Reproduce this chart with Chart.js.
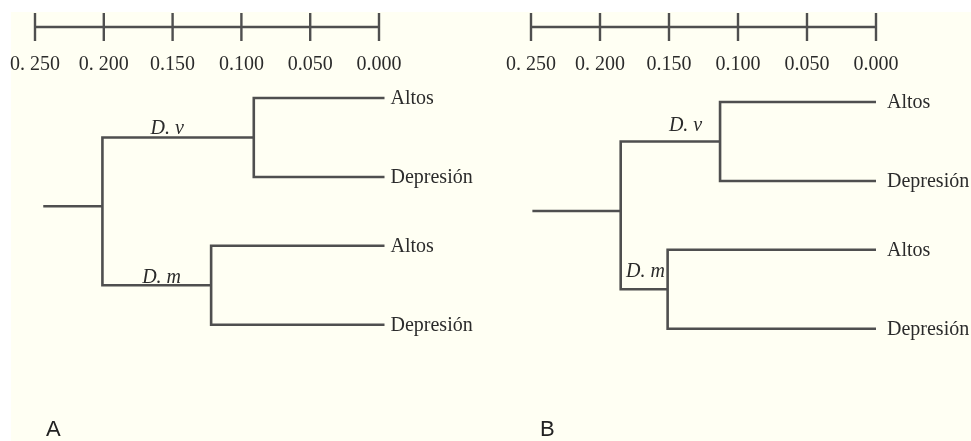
<!DOCTYPE html>
<html>
<head>
<meta charset="utf-8">
<script src="https://cdn.jsdelivr.net/npm/chart.js@4.4.1/dist/chart.umd.min.js"></script>
<style>
  html, body { margin: 0; padding: 0; background: #ffffff; }
  #wrap { position: relative; width: 971px; height: 441px; overflow: hidden; background: #ffffff; }
  #cream { position: absolute; left: 11px; top: 12px; right: 0; bottom: 0; background: #fffff3; }
  canvas { position: absolute; top: 0; }
  .panel { position: absolute; top: 418px; font: 22px "Liberation Sans", sans-serif; line-height: 22px; color: #222; }
</style>
</head>
<body>
<div id="wrap">
  <div id="cream"></div>
  <canvas id="cA" width="485" height="441" style="left:0px"></canvas>
  <canvas id="cB" width="486" height="441" style="left:485px"></canvas>
  <div class="panel" style="left:46px">A</div>
  <div class="panel" style="left:540px">B</div>
</div>
<script>
// ---- data ----
const tickValues = [0.25, 0.2, 0.15, 0.1, 0.05, 0];
const tickLabels = ['0. 250', '0. 200', '0.150', '0.100', '0.050', '0.000'];
const leafNames = ['Altos', 'Depresión', 'Altos', 'Depresión'];
const leafRows = [1, 2, 2.87, 3.87];
const cladeNames = ['D. v', 'D. m'];

const cladeHeightsA = [0.091, 0.122];
const rootHeightA = 0.201;
const stemHeightA = 0.244;
const tipHeightA = -0.004;
const rootRowA = 2.37;
const cladeLabelXA = [0.154, 0.158];

// panel B
const cladeHeightsB = [0.113, 0.151];
const rootHeightB = 0.185;
const stemHeightB = 0.249;
const tipHeightB = 0;
const rootRowB = 2.38;
const cladeLabelXB = [0.138, 0.167];

// ---- drawing ----
const LINE = '#4f4f4f';
const TEXT = '#2b2b2b';

const dendroText = {
  id: 'dendroText',
  afterDatasetsDraw(chart, args, o) {
    const ctx = chart.ctx, xs = chart.scales.x, ys = chart.scales.y;
    ctx.save();
    // scale bar
    ctx.strokeStyle = LINE;
    ctx.lineWidth = 2.4;
    ctx.beginPath();
    ctx.moveTo(xs.getPixelForValue(tickValues[0]), o.barY);
    ctx.lineTo(xs.getPixelForValue(tickValues[tickValues.length - 1]), o.barY);
    tickValues.forEach(v => {
      const px = xs.getPixelForValue(v);
      ctx.moveTo(px, o.barY - 14);
      ctx.lineTo(px, o.barY + 14);
    });
    ctx.stroke();
    ctx.fillStyle = TEXT;
    ctx.font = '20px "Liberation Serif", serif';
    ctx.textAlign = 'center';
    ctx.textBaseline = 'alphabetic';
    tickValues.forEach((v, i) => {
      ctx.fillText(tickLabels[i], xs.getPixelForValue(v), o.labelBaseline);
    });
    // leaf labels
    ctx.textAlign = 'left';
    ctx.textBaseline = 'middle';
    leafNames.forEach((n, i) => {
      ctx.fillText(n, xs.getPixelForValue(o.tip) + o.leafGap, ys.getPixelForValue(leafRows[i]) + 1);
    });
    // clade labels
    ctx.font = 'italic 20px "Liberation Serif", serif';
    ctx.textAlign = 'center';
    ctx.textBaseline = 'alphabetic';
    cladeNames.forEach((n, i) => {
      const row = (leafRows[2 * i] + leafRows[2 * i + 1]) / 2;
      ctx.fillText(n, xs.getPixelForValue(o.cladeLabelX[i]), ys.getPixelForValue(row) - o.cladeLift[i]);
    });
    ctx.restore();
  }
};

function seg(points) {
  return {
    data: points.map(([x, y]) => ({ x, y })),
    showLine: true, pointRadius: 0, pointHoverRadius: 0,
    borderColor: LINE, borderWidth: 2.6, clip: false, fill: false,
    tension: 0, borderJoinStyle: 'miter', borderCapStyle: 'butt'
  };
}

function buildChart(id, p) {
  const cladeRows = [(leafRows[0] + leafRows[1]) / 2, (leafRows[2] + leafRows[3]) / 2];
  const datasets = [];
  for (let i = 0; i < 2; i++) {
    datasets.push(seg([
      [p.tip, leafRows[2 * i]], [p.clade[i], leafRows[2 * i]],
      [p.clade[i], leafRows[2 * i + 1]], [p.tip, leafRows[2 * i + 1]]
    ]));
  }
  datasets.push(seg([
    [p.clade[0], cladeRows[0]], [p.root, cladeRows[0]],
    [p.root, cladeRows[1]], [p.clade[1], cladeRows[1]]
  ]));
  datasets.push(seg([[p.stem, p.rootRow], [p.root, p.rootRow]]));

  return new Chart(document.getElementById(id), {
    type: 'scatter',
    data: { datasets },
    options: {
      responsive: false, animation: false, devicePixelRatio: 1,
      events: [],
      layout: { padding: p.padding },
      scales: {
        x: { type: 'linear', reverse: true, min: 0, max: 0.25, display: false },
        y: { type: 'linear', reverse: true, min: 0.5, max: 4.5, display: false }
      },
      plugins: {
        legend: { display: false },
        tooltip: { enabled: false },
        dendroText: {
          barY: 27, labelBaseline: 70, tip: p.tip, leafGap: p.leafGap,
          cladeLabelX: p.cladeLabelX, cladeLift: p.cladeLift
        }
      }
    },
    plugins: [dendroText]
  });
}

buildChart('cA', {
  clade: cladeHeightsA, root: rootHeightA, stem: stemHeightA, tip: tipHeightA,
  rootRow: rootRowA, cladeLabelX: cladeLabelXA, cladeLift: [4, 2], leafGap: 6,
  padding: { left: 35, right: 106, top: 58.5, bottom: 66.5 }
});
buildChart('cB', {
  clade: cladeHeightsB, root: rootHeightB, stem: stemHeightB, tip: tipHeightB,
  rootRow: rootRowB, cladeLabelX: cladeLabelXB, cladeLift: [11, 12], leafGap: 11,
  padding: { left: 46, right: 95, top: 62.5, bottom: 62.5 }
});
</script>
</body>
</html>
